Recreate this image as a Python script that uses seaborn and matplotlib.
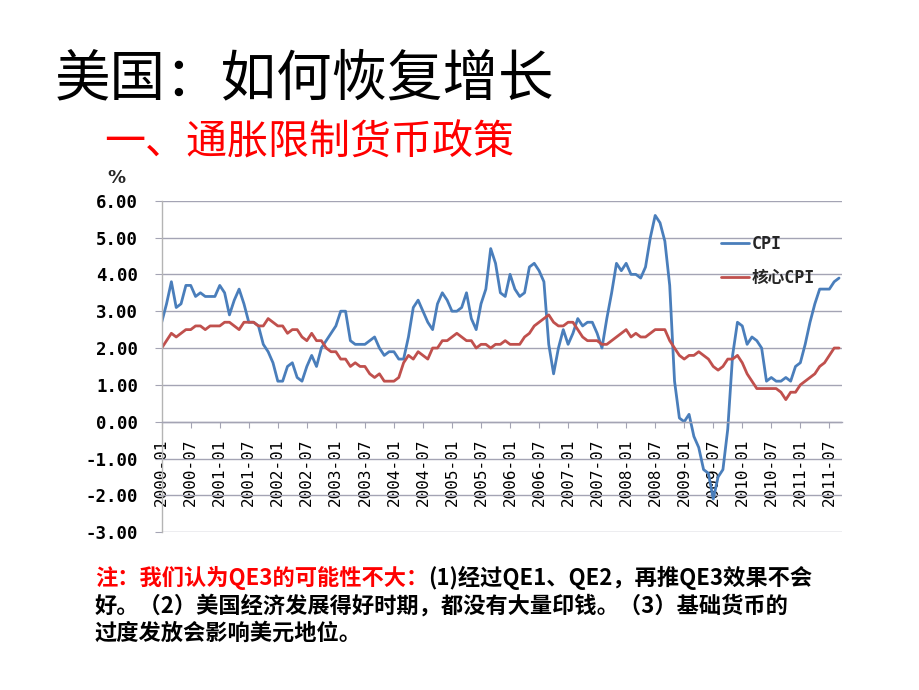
import matplotlib
matplotlib.use("Agg")
import matplotlib.pyplot as plt
import seaborn as sns
import pandas as pd
import numpy as np

# ---------------- data ----------------
cpi = [2.7, 3.2, 3.8, 3.1, 3.2, 3.7, 3.7, 3.4, 3.5, 3.4, 3.4, 3.4,
       3.7, 3.5, 2.9, 3.3, 3.6, 3.2, 2.7, 2.7, 2.6, 2.1, 1.9, 1.6,
       1.1, 1.1, 1.5, 1.6, 1.2, 1.1, 1.5, 1.8, 1.5, 2.0, 2.2, 2.4,
       2.6, 3.0, 3.0, 2.2, 2.1, 2.1, 2.1, 2.2, 2.3, 2.0, 1.8, 1.9,
       1.9, 1.7, 1.7, 2.3, 3.1, 3.3, 3.0, 2.7, 2.5, 3.2, 3.5, 3.3,
       3.0, 3.0, 3.1, 3.5, 2.8, 2.5, 3.2, 3.6, 4.7, 4.3, 3.5, 3.4,
       4.0, 3.6, 3.4, 3.5, 4.2, 4.3, 4.1, 3.8, 2.1, 1.3, 2.0, 2.5,
       2.1, 2.4, 2.8, 2.6, 2.7, 2.7, 2.4, 2.0, 2.8, 3.5, 4.3, 4.1,
       4.3, 4.0, 4.0, 3.9, 4.2, 5.0, 5.6, 5.4, 4.9, 3.7, 1.1, 0.1,
       0.0, 0.2, -0.4, -0.7, -1.3, -1.4, -2.1, -1.5, -1.3, -0.2, 1.8, 2.7,
       2.6, 2.1, 2.3, 2.2, 2.0, 1.1, 1.2, 1.1, 1.1, 1.2, 1.1, 1.5,
       1.6, 2.1, 2.7, 3.2, 3.6, 3.6, 3.6, 3.8, 3.9]

core_cpi = [2.0, 2.2, 2.4, 2.3, 2.4, 2.5, 2.5, 2.6, 2.6, 2.5, 2.6, 2.6,
            2.6, 2.7, 2.7, 2.6, 2.5, 2.7, 2.7, 2.7, 2.6, 2.6, 2.8, 2.7,
            2.6, 2.6, 2.4, 2.5, 2.5, 2.3, 2.2, 2.4, 2.2, 2.2, 2.0, 1.9,
            1.9, 1.7, 1.7, 1.5, 1.6, 1.5, 1.5, 1.3, 1.2, 1.3, 1.1, 1.1,
            1.1, 1.2, 1.6, 1.8, 1.7, 1.9, 1.8, 1.7, 2.0, 2.0, 2.2, 2.2,
            2.3, 2.4, 2.3, 2.2, 2.2, 2.0, 2.1, 2.1, 2.0, 2.1, 2.1, 2.2,
            2.1, 2.1, 2.1, 2.3, 2.4, 2.6, 2.7, 2.8, 2.9, 2.7, 2.6, 2.6,
            2.7, 2.7, 2.5, 2.3, 2.2, 2.2, 2.2, 2.1, 2.1, 2.2, 2.3, 2.4,
            2.5, 2.3, 2.4, 2.3, 2.3, 2.4, 2.5, 2.5, 2.5, 2.2, 2.0, 1.8,
            1.7, 1.8, 1.8, 1.9, 1.8, 1.7, 1.5, 1.4, 1.5, 1.7, 1.7, 1.8,
            1.6, 1.3, 1.1, 0.9, 0.9, 0.9, 0.9, 0.9, 0.8, 0.6, 0.8, 0.8,
            1.0, 1.1, 1.2, 1.3, 1.5, 1.6, 1.8, 2.0, 2.0]

months = [f"{2000 + i // 12}-{i % 12 + 1:02d}" for i in range(len(cpi))]
x_tick_labels = [m for m in months if m.endswith("-01") or m.endswith("-07")]
y_ticks = [-3, -2, -1, 0, 1, 2, 3, 4, 5, 6]
y_tick_labels = ["-3.00", "-2.00", "-1.00", "0.00", "1.00", "2.00", "3.00", "4.00", "5.00", "6.00"]
series_names = ["CPI", "核心CPI"]

title = "美国：如何恢复增长"
subtitle = "一、通胀限制货币政策"
note_red = "注：我们认为QE3的可能性不大："
note_line1 = "(1)经过QE1、QE2，再推QE3效果不会"
note_line2 = "好。（2）美国经济发展得好时期，都没有大量印钱。（3）基础货币的"
note_line3 = "过度发放会影响美元地位。"

# ---------------- build table ----------------
df = pd.DataFrame({
    "idx": list(range(len(cpi))) * 2,
    "value": cpi + core_cpi,
    "series": [series_names[0]] * len(cpi) + [series_names[1]] * len(core_cpi),
})

sns.set_style("white")
plt.rcParams["font.family"] = ["Noto Sans CJK SC", "DejaVu Sans"]
plt.rcParams["axes.unicode_minus"] = False

W, H = 920, 690
fig = plt.figure(figsize=(W / 100, H / 100), dpi=100)
fig.patch.set_facecolor("white")

def fx(px):
    return px / W

def fy(py):
    return 1 - py / H

ax_l, ax_r, ax_t, ax_b = 161.7, 841.7, 200.7, 532.2
ax = fig.add_axes([fx(ax_l), fy(ax_b), (ax_r - ax_l) / W, (ax_b - ax_t) / H])

sns.lineplot(data=df, x="idx", y="value", hue="series", ax=ax,
             palette={"CPI": "#4A7EBB", "核心CPI": "#C0504D"},
             linewidth=2.0, legend=True)

ax.set_xlim(0, 140.55)
ax.set_ylim(-3, 6)
ax.set_xlabel("")
ax.set_ylabel("")

# grid
ax.yaxis.grid(True, color="#a4a4b4", linewidth=1.0)
ax.xaxis.grid(False)
ax.set_axisbelow(True)

# spines
for s in ["top", "right"]:
    ax.spines[s].set_visible(False)
ax.spines["left"].set_color("#b4b4b4")
ax.spines["left"].set_linewidth(1.0)
ax.spines["bottom"].set_position(("data", 0))
ax.spines["bottom"].set_color("#a4a4b4")
ax.spines["bottom"].set_linewidth(1.0)

mono = ["DejaVu Sans Mono", "Noto Sans CJK SC"]

# ticks
xt = [i for i, m in enumerate(months) if m in x_tick_labels]
ax.set_xticks(xt)
ax.set_xticklabels(x_tick_labels, rotation=90, fontsize=11.5,
                   family=mono, color="black")
ax.tick_params(axis="x", direction="out", length=4, width=0.8,
               color="#a4a4b4", pad=8, bottom=True)
ax.set_yticks(y_ticks)
ax.set_yticklabels(y_tick_labels, fontsize=12.5, fontweight="bold",
                   family=mono, color="black")
ax.tick_params(axis="y", direction="out", length=5, width=0.8,
               color="#a4a4b4", pad=12, left=True)

# % label
fig.text(fx(116), fy(178), "%", fontsize=13, fontweight="bold",
         ha="center", va="center", family=["DejaVu Sans"])

# legend
leg = ax.legend(loc="upper left", bbox_to_anchor=(0.822, 0.897),
                frameon=False, borderaxespad=0, borderpad=0,
                handlelength=1.7, handletextpad=0.15, labelspacing=0.95,
                prop={"family": mono, "weight": "bold", "size": 12})
for line in leg.get_lines():
    line.set_linewidth(2.0)

# titles
fig.text(fx(55), fy(80), title, fontsize=40, color="black",
         fontweight="medium", ha="left", va="center")
fig.text(fx(104), fy(143), subtitle, fontsize=29.5, color="#FF0000",
         fontweight="medium", ha="left", va="center")

# note
nfs = 16
t_red = fig.text(fx(95), fy(578), note_red, fontsize=nfs, fontweight="bold",
                 color="#FF0000", ha="left", va="center")
fig.canvas.draw()
bb = t_red.get_window_extent(renderer=fig.canvas.get_renderer())
fig.text(bb.x1 / W, fy(578), note_line1, fontsize=nfs, fontweight="bold",
         color="black", ha="left", va="center")
fig.text(fx(95), fy(606), note_line2, fontsize=nfs, fontweight="bold",
         color="black", ha="left", va="center")
fig.text(fx(95), fy(633), note_line3, fontsize=nfs, fontweight="bold",
         color="black", ha="left", va="center")

fig.savefig("out.png", dpi=100, facecolor="white")
